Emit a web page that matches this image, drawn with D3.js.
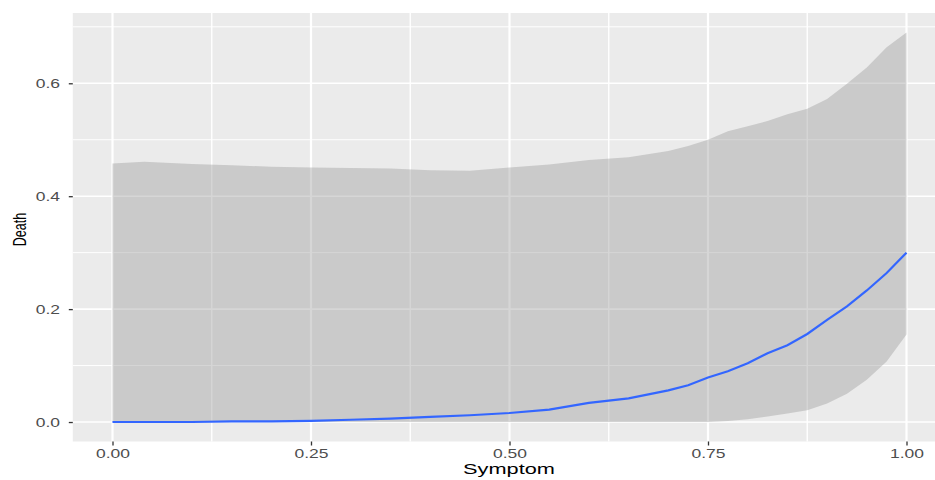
<!DOCTYPE html>
<html>
<head>
<meta charset="utf-8">
<script src="https://cdn.jsdelivr.net/npm/d3@7"></script>
<style>
  body { margin: 0; background: #fff; }
  svg { display: block; font-family: "Liberation Sans", Arial, sans-serif; }
</style>
</head>
<body>
<svg></svg>
<script>
// values
const symptom = [0, 0.04, 0.1, 0.15, 0.2, 0.25, 0.3, 0.35, 0.4, 0.45, 0.5, 0.55, 0.6, 0.65,
                 0.7, 0.725, 0.75, 0.775, 0.8, 0.825, 0.85, 0.875, 0.9, 0.925, 0.95, 0.975, 1.0];
const upper = [0.458, 0.461, 0.457, 0.455, 0.452, 0.451, 0.450, 0.449, 0.446, 0.445, 0.451, 0.456, 0.464, 0.469,
               0.480, 0.489, 0.500, 0.515, 0.524, 0.533, 0.545, 0.555, 0.572, 0.599, 0.628, 0.664, 0.690];
const lower = [0, 0, 0, 0, 0, 0, 0, 0, 0, 0, 0, 0, 0, 0,
               0, 0, 0, 0.002, 0.005, 0.010, 0.015, 0.021, 0.033, 0.050, 0.075, 0.107, 0.155];
const fit = [0, 0, 0, 0.001, 0.001, 0.002, 0.004, 0.006, 0.009, 0.012, 0.016, 0.022, 0.034, 0.042,
             0.056, 0.065, 0.079, 0.090, 0.104, 0.122, 0.136, 0.156, 0.181, 0.205, 0.233, 0.264, 0.300];
const xTicks = [0, 0.25, 0.5, 0.75, 1];
const xMinor = [0.125, 0.375, 0.625, 0.875];
const yTicks = [0, 0.2, 0.4, 0.6];
const yMinor = [0.1, 0.3, 0.5, 0.7];

const width = 935, height = 480;
const sx = 1.4; // text in the picture is stretched sideways

const svg = d3.select("svg").attr("width", width).attr("height", height);

const x = d3.scaleLinear().domain([-0.05, 1.05]).range([72.8, 946.2]);
const y = d3.scaleLinear().domain([-0.0345, 0.7245]).range([441.5, 13]);

const data = symptom.map((s, i) => ({s: s, lo: lower[i], hi: upper[i], f: fit[i]}));

// panel
svg.append("rect")
    .attr("x", x(-0.05)).attr("y", y(0.7245))
    .attr("width", x(1.05) - x(-0.05)).attr("height", y(-0.0345) - y(0.7245))
    .attr("fill", "#EBEBEB");

const grid = svg.append("g").attr("stroke", "#fff");
grid.selectAll(".ym").data(yMinor).join("line")
    .attr("x1", x(-0.05)).attr("x2", x(1.05))
    .attr("y1", d => y(d)).attr("y2", d => y(d))
    .attr("stroke-width", 1);
grid.selectAll(".xm").data(xMinor).join("line")
    .attr("x1", d => x(d)).attr("x2", d => x(d))
    .attr("y1", y(0.7245)).attr("y2", y(-0.0345))
    .attr("stroke-width", 1.4);
grid.selectAll(".yM").data(yTicks).join("line")
    .attr("x1", x(-0.05)).attr("x2", x(1.05))
    .attr("y1", d => y(d)).attr("y2", d => y(d))
    .attr("stroke-width", 1.6);
grid.selectAll(".xM").data(xTicks).join("line")
    .attr("x1", d => x(d)).attr("x2", d => x(d))
    .attr("y1", y(0.7245)).attr("y2", y(-0.0345))
    .attr("stroke-width", 2.2);

// confidence ribbon
svg.append("path")
    .datum(data)
    .attr("fill", "#999999")
    .attr("fill-opacity", 0.4)
    .attr("d", d3.area().x(d => x(d.s)).y0(d => y(d.lo)).y1(d => y(d.hi)));

// smooth line
svg.append("path")
    .datum(data)
    .attr("fill", "none")
    .attr("stroke", "#3366FF")
    .attr("stroke-width", 2.2)
    .attr("d", d3.line().x(d => x(d.s)).y(d => y(d.f)));

// x axis
const gx = svg.append("g")
    .attr("transform", `translate(0,${y(-0.0345)})`)
    .call(d3.axisBottom(x).tickValues(xTicks).tickFormat(d3.format(".2f")).tickSize(4).tickPadding(4));
gx.select(".domain").remove();
gx.selectAll("line").attr("stroke", "#333333").attr("stroke-width", 1.3);
gx.selectAll("text")
    .attr("fill", "#4D4D4D").style("font-size", "12.5px")
    .attr("transform", `scale(${sx},1)`);

// y axis
const gy = svg.append("g")
    .attr("transform", `translate(${x(-0.05)},0)`)
    .call(d3.axisLeft(y).tickValues(yTicks).tickFormat(d3.format(".1f")).tickSize(4).tickPadding(5));
gy.select(".domain").remove();
gy.selectAll("line").attr("stroke", "#333333").attr("stroke-width", 1.3);
gy.selectAll("text")
    .attr("fill", "#4D4D4D").style("font-size", "12.5px")
    .attr("x", -(x(-0.05) - 60) / sx)
    .attr("transform", `scale(${sx},1)`);

// titles
svg.append("text")
    .attr("transform", `translate(509,474) scale(1.45,1)`)
    .attr("text-anchor", "middle")
    .style("font-size", "15px")
    .attr("fill", "#000")
    .text("Symptom");

svg.append("text")
    .attr("transform", `translate(26,229.5) rotate(-90) scale(1,1.5)`)
    .attr("text-anchor", "middle")
    .style("font-size", "12.5px")
    .attr("fill", "#000")
    .text("Death");
</script>
</body>
</html>
